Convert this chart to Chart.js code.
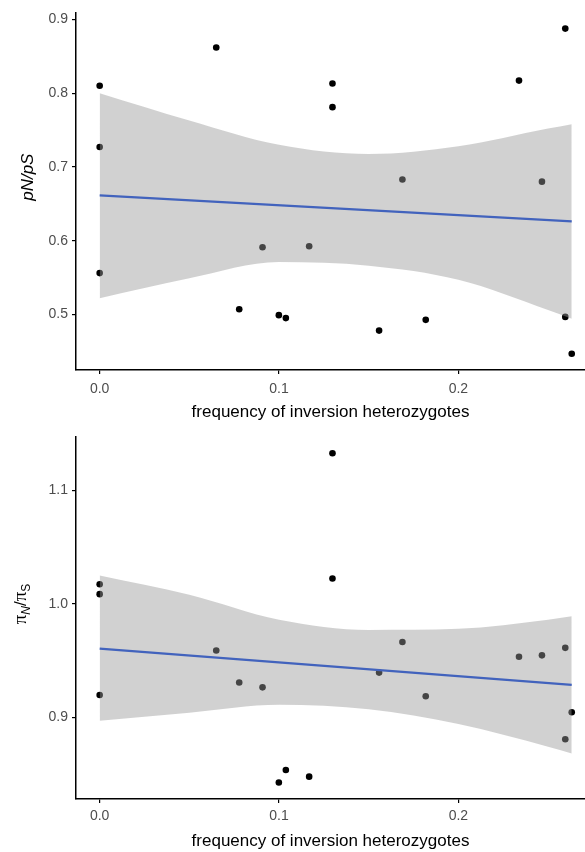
<!DOCTYPE html>
<html>
<head>
<meta charset="utf-8">
<script src="https://cdn.jsdelivr.net/npm/chart.js@4.4.1/dist/chart.umd.min.js"></script>
<style>
  body { margin: 0; background: #fff; }
  canvas { display: block; }
</style>
</head>
<body>
<canvas id="top-chart" width="585" height="420"></canvas>
<canvas id="bottom-chart" width="585" height="432"></canvas>
<script>
// frequency of inversion heterozygotes (x, shared by both panels)
var freqX = [0, 0, 0, 0.065, 0.0778, 0.0908, 0.0999, 0.1038, 0.1168, 0.1298, 0.1298,
             0.1558, 0.1688, 0.1818, 0.2338, 0.2466, 0.2596, 0.2596, 0.2632];
// pN/pS
var pnps = [0.810, 0.727, 0.556, 0.862, 0.507, 0.591, 0.499, 0.495, 0.5925, 0.813, 0.781,
            0.478, 0.683, 0.4926, 0.817, 0.680, 0.8875, 0.4966, 0.4466];
// piN/piS
var piRatio = [1.0173, 1.0085, 0.9197, 0.9588, 0.9306, 0.9264, 0.8425, 0.8536, 0.8477, 1.1327, 1.0223,
               0.9394, 0.9664, 0.9185, 0.9534, 0.9546, 0.9612, 0.8806, 0.9044];

// linear fit and its confidence band
var fitX = [0, 0.2632];
var pnpsFit = [0.6613, 0.626];
var piFit = [0.9605, 0.9285];
var bandX = [0, 0.05, 0.1, 0.15, 0.2, 0.25, 0.2632];
var pnpsUpper = [0.800, 0.763, 0.730, 0.7175, 0.728, 0.752, 0.758];
var pnpsLower = [0.522, 0.549, 0.571, 0.566, 0.547, 0.506, 0.494];
var piUpper = [1.025, 1.008, 0.986, 0.977, 0.978, 0.986, 0.989];
var piLower = [0.897, 0.904, 0.911, 0.907, 0.894, 0.874, 0.868];

var xTicks = [0, 0.1, 0.2];
var pnpsTicks = [0.5, 0.6, 0.7, 0.8, 0.9];
var piTicks = [0.9, 1.0, 1.1];

Chart.defaults.font.family = '"Liberation Sans", Arial, sans-serif';

function pts(xs, ys) {
    return xs.map(function (x, i) { return {x: x, y: ys[i]}; });
}

// y axis title with italic / subscript pieces
var yTitlePlugin = {
    id: 'yTitle',
    afterDraw: function (chart, args, opts) {
        var ctx = chart.ctx, area = chart.chartArea;
        ctx.save();
        ctx.translate(opts.x, (area.top + area.bottom) / 2 + opts.shift);
        ctx.rotate(-Math.PI / 2);
        var total = 0;
        opts.parts.forEach(function (p) { ctx.font = p.font; total += ctx.measureText(p.text).width; });
        var pos = -total / 2;
        ctx.fillStyle = '#000';
        ctx.textBaseline = 'alphabetic';
        opts.parts.forEach(function (p) {
            ctx.font = p.font;
            ctx.fillText(p.text, pos, p.dy || 0);
            pos += ctx.measureText(p.text).width;
        });
        ctx.restore();
    }
};

function makeChart(id, ys, fit, upper, lower, yTicks, cfg) {
    new Chart(document.getElementById(id), {
        type: 'line',
        data: {
            datasets: [{
                data: pts(fitX, fit),
                borderColor: '#4263bd',
                borderWidth: 2.2,
                pointRadius: 0,
                fill: false
            }, {
                data: pts(bandX, upper),
                borderWidth: 0,
                pointRadius: 0,
                cubicInterpolationMode: 'monotone',
                backgroundColor: 'rgba(153,153,153,0.45)',
                fill: '+1'
            }, {
                data: pts(bandX, lower),
                borderWidth: 0,
                pointRadius: 0,
                cubicInterpolationMode: 'monotone',
                fill: false
            }, {
                data: pts(freqX, ys),
                showLine: false,
                pointRadius: 3.3,
                pointBackgroundColor: '#000',
                pointBorderWidth: 0
            }]
        },
        options: {
            responsive: false,
            animation: false,
            layout: { autoPadding: false, padding: { top: cfg.top, right: 0, left: 0, bottom: 0 } },
            plugins: {
                legend: { display: false },
                tooltip: { enabled: false },
                yTitle: cfg.yTitle
            },
            scales: {
                x: {
                    type: 'linear',
                    min: -0.0132,
                    max: 0.2706,
                    afterBuildTicks: function (s) { s.ticks = xTicks.map(function (v) { return {value: v}; }); },
                    afterFit: function (s) { s.height = cfg.xHeight; },
                    grid: { drawOnChartArea: false, color: '#000', tickLength: 4, lineWidth: 1.2 },
                    border: { color: '#000', width: 1.5 },
                    ticks: {
                        color: '#4d4d4d', font: { size: 14 }, padding: cfg.tickPad, maxRotation: 0,
                        callback: function (v) { return v.toFixed(1); }
                    },
                    title: {
                        display: true, text: 'frequency of inversion heterozygotes',
                        color: '#000', font: { size: 17 }, padding: { top: 0, bottom: cfg.titlePad }
                    }
                },
                y: {
                    min: cfg.yMin,
                    max: cfg.yMax,
                    afterBuildTicks: function (s) { s.ticks = yTicks.map(function (v) { return {value: v}; }); },
                    afterFit: function (s) { s.width = 76; },
                    grid: { drawOnChartArea: false, color: '#000', tickLength: 4, lineWidth: 1.2 },
                    border: { color: '#000', width: 1.5 },
                    ticks: {
                        color: '#4d4d4d', font: { size: 14 }, padding: 4,
                        callback: function (v) { return v.toFixed(1); }
                    }
                }
            }
        },
        plugins: [yTitlePlugin]
    });
}

makeChart('top-chart', pnps, pnpsFit, pnpsUpper, pnpsLower, pnpsTicks, {
    top: 10, xHeight: 50, titlePad: -3, tickPad: 7, yMin: 0.4246, yMax: 0.9095,
    yTitle: {
        x: 33, shift: -14,
        parts: [{ text: 'pN/pS', font: 'italic 17px "Liberation Sans"' }]
    }
});

makeChart('bottom-chart', piRatio, piFit, piUpper, piLower, piTicks, {
    top: 17, xHeight: 53, titlePad: 0, tickPad: 5, yMin: 0.828, yMax: 1.147,
    yTitle: {
        x: 26, shift: -14,
        parts: [
            { text: 'π', font: '19px "Liberation Serif"' },
            { text: 'N', font: 'italic 12px "Liberation Sans"', dy: 4 },
            { text: '/', font: '17px "Liberation Sans"' },
            { text: 'π', font: '19px "Liberation Serif"' },
            { text: 'S', font: '12px "Liberation Sans"', dy: 4 }
        ]
    }
});
</script>
</body>
</html>
